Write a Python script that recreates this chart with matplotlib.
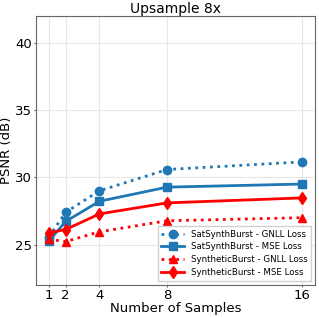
import numpy as np
import matplotlib

matplotlib.use('Agg')
import matplotlib.pyplot as plt

samples = [1, 2, 4, 8, 16]
sat_gnll = [25.55, 27.4, 29.0, 30.58, 31.15]
sat_mse = [25.25, 26.72, 28.22, 29.27, 29.5]
syn_gnll = [25.4, 25.22, 25.95, 26.77, 27.0]
syn_mse = [25.87, 26.12, 27.28, 28.1, 28.47]
labels = ['SatSynthBurst - GNLL Loss', 'SatSynthBurst - MSE Loss',
          'SyntheticBurst - GNLL Loss', 'SyntheticBurst - MSE Loss']

fig, ax = plt.subplots(figsize=(3.19, 3.18), dpi=100, facecolor='w')

blue = '#1f77b4'
ax.plot(samples, sat_gnll, ':', color=blue, marker='o', lw=2, ms=6, label=labels[0])
ax.plot(samples, sat_mse, '-', color=blue, marker='s', lw=2, ms=6, label=labels[1])
ax.plot(samples, syn_gnll, ':', color='red', marker='^', lw=2, ms=6, label=labels[2])
ax.plot(samples, syn_mse, '-', color='red', marker='d', lw=2, ms=6, label=labels[3])

ax.set_ylim(22, 42)
ax.set_yticks([25, 30, 35, 40])
ax.set_xticks(samples)
ax.grid(color='#e6e6e6', lw=0.8)
for s in ax.spines.values():
    s.set_color('#666666')
ax.tick_params(labelsize=9.5, colors='black', length=1.5, pad=1.5, color='#666666')

ax.set_title('Upsample 8x', fontsize=10, pad=2)
ax.set_xlabel('Number of Samples', fontsize=9.5, labelpad=0)
ax.set_ylabel('PSNR (dB)', fontsize=9.5, labelpad=1)
ax.legend(loc='lower right', fontsize=6.2, handlelength=2.6, borderpad=0.4,
          labelspacing=0.45, framealpha=0.9, fancybox=False, edgecolor='#cccccc')

fig.subplots_adjust(left=0.113, right=0.988, top=0.95, bottom=0.104)
fig.savefig('out.png')
plt.close(fig)
